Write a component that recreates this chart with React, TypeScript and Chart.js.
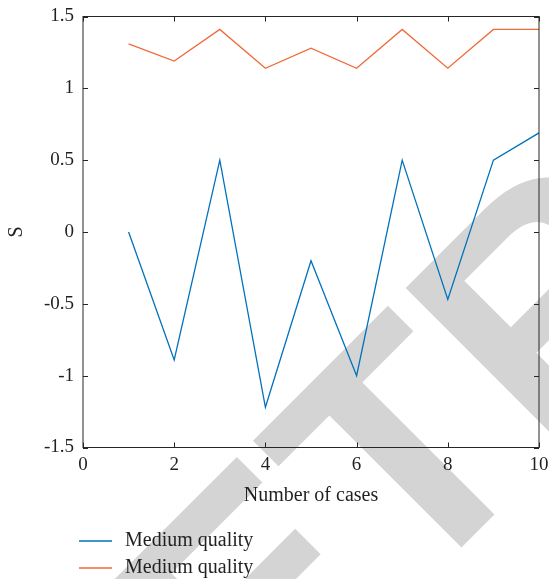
import React, { useEffect, useRef } from "react";
import { Chart, registerables } from "chart.js";

Chart.register(...registerables);

// ---- data ----
const cases = [1, 2, 3, 4, 5, 6, 7, 8, 9, 10];
const seriesBlue = [0, -0.89, 0.5, -1.22, -0.2, -1.0, 0.5, -0.47, 0.5, 0.69];
const seriesOrange = [1.31, 1.19, 1.41, 1.14, 1.28, 1.14, 1.41, 1.14, 1.41, 1.41];
const seriesLabels = ["Medium quality", "Medium quality"];
const xTickValues = [0, 2, 4, 6, 8, 10];
const yTickValues = [-1.5, -1, -0.5, 0, 0.5, 1, 1.5];
const xTitle = "Number of cases";
const yTitle = "S";
const watermarkText = "RETRACTED";

const FONT = "'Liberation Serif', 'Times New Roman', serif";
const TEXT = "#231f20";
const BLUE = "#0072BD";
const ORANGE = "#EF6B3A";

const watermarkPlugin = {
  id: "watermark",
  beforeDraw(chart: any) {
    const ctx = chart.ctx;
    ctx.save();
    ctx.fillStyle = "#d4d4d4";
    ctx.font = "bold 324px 'Liberation Sans', Arial, sans-serif";
    ctx.textBaseline = "alphabetic";
    ctx.textAlign = "left";
    ctx.translate(478, 531);
    ctx.rotate(-Math.PI / 4);
    const pre = ctx.measureText("RE").width + ctx.measureText("T").width / 2;
    ctx.fillText(watermarkText, -pre, 0);
    ctx.restore();
  },
};

const framePlugin = {
  id: "frame",
  afterDatasetsDraw(chart: any) {
    const { ctx, chartArea, scales } = chart;
    const { left, right, top, bottom } = chartArea;
    const tl = 5;
    ctx.save();
    ctx.strokeStyle = "#262626";
    ctx.lineWidth = 1;
    ctx.strokeRect(left, top, right - left, bottom - top);
    ctx.beginPath();
    scales.x.ticks.forEach((t: any) => {
      const px = Math.round(scales.x.getPixelForValue(t.value)) + 0.5;
      ctx.moveTo(px, bottom);
      ctx.lineTo(px, bottom - tl);
      ctx.moveTo(px, top);
      ctx.lineTo(px, top + tl);
    });
    scales.y.ticks.forEach((t: any) => {
      const py = Math.round(scales.y.getPixelForValue(t.value)) + 0.5;
      ctx.moveTo(left, py);
      ctx.lineTo(left + tl, py);
      ctx.moveTo(right, py);
      ctx.lineTo(right - tl, py);
    });
    ctx.stroke();
    ctx.restore();
  },
};

const legendPlugin = {
  id: "customLegend",
  afterDraw(chart: any) {
    const ctx = chart.ctx;
    ctx.save();
    ctx.font = `20px ${FONT}`;
    ctx.textBaseline = "middle";
    ctx.textAlign = "left";
    chart.data.datasets.forEach((ds: any, i: number) => {
      const y = 541 + i * 27;
      ctx.strokeStyle = ds.borderColor;
      ctx.lineWidth = 1.3;
      ctx.beginPath();
      ctx.moveTo(79, y);
      ctx.lineTo(112, y);
      ctx.stroke();
      ctx.fillStyle = TEXT;
      ctx.fillText(ds.label, 125, y);
    });
    ctx.restore();
  },
};

export default function App() {
  const ref = useRef<HTMLCanvasElement | null>(null);

  useEffect(() => {
    document.body.style.margin = "0";
    if (!ref.current) return;
    const chart = new Chart(ref.current, {
      type: "line",
      data: {
        datasets: [
          {
            label: seriesLabels[0],
            data: cases.map((c, i) => ({ x: c, y: seriesBlue[i] })),
            borderColor: BLUE,
            backgroundColor: BLUE,
            borderWidth: 1.3,
            pointRadius: 0,
            tension: 0,
          },
          {
            label: seriesLabels[1],
            data: cases.map((c, i) => ({ x: c, y: seriesOrange[i] })),
            borderColor: ORANGE,
            backgroundColor: ORANGE,
            borderWidth: 1.3,
            pointRadius: 0,
            tension: 0,
          },
        ],
      },
      options: {
        responsive: false,
        animation: false,
        devicePixelRatio: 1,
        layout: { padding: { left: 0, right: 10, top: 16.5, bottom: 0 } },
        plugins: {
          legend: { display: false },
          tooltip: { enabled: false },
        },
        scales: {
          x: {
            type: "linear",
            min: 0,
            max: 10,
            grid: { display: false, drawTicks: false },
            border: { display: false },
            afterBuildTicks: (s: any) => {
              s.ticks = xTickValues.map((v) => ({ value: v }));
            },
            afterFit: (s: any) => {
              s.height = 131.5;
              s.paddingLeft = 0;
              s.paddingRight = 0;
            },
            ticks: {
              padding: 6,
              color: TEXT,
              font: { family: FONT, size: 19 },
              maxRotation: 0,
              callback: (v: any) => String(v),
            },
            title: {
              display: true,
              text: xTitle,
              color: TEXT,
              font: { family: FONT, size: 20 },
              padding: { top: 0, bottom: 71 },
            },
          },
          y: {
            type: "linear",
            min: -1.5,
            max: 1.5,
            grid: { display: false, drawTicks: false },
            border: { display: false },
            afterBuildTicks: (s: any) => {
              s.ticks = yTickValues.map((v) => ({ value: v }));
            },
            afterFit: (s: any) => {
              s.width = 83;
              s.paddingTop = 0;
              s.paddingBottom = 0;
            },
            ticks: {
              padding: 9,
              color: TEXT,
              font: { family: FONT, size: 19 },
              callback: (v: any) => String(v),
            },
            title: {
              display: true,
              text: yTitle,
              color: TEXT,
              font: { family: FONT, size: 20 },
              padding: { top: 5, bottom: 0 },
            },
          },
        },
      },
      plugins: [watermarkPlugin, framePlugin, legendPlugin],
    });
    return () => chart.destroy();
  }, []);

  return <canvas ref={ref} width={549} height={579} style={{ display: "block" }} />;
}
